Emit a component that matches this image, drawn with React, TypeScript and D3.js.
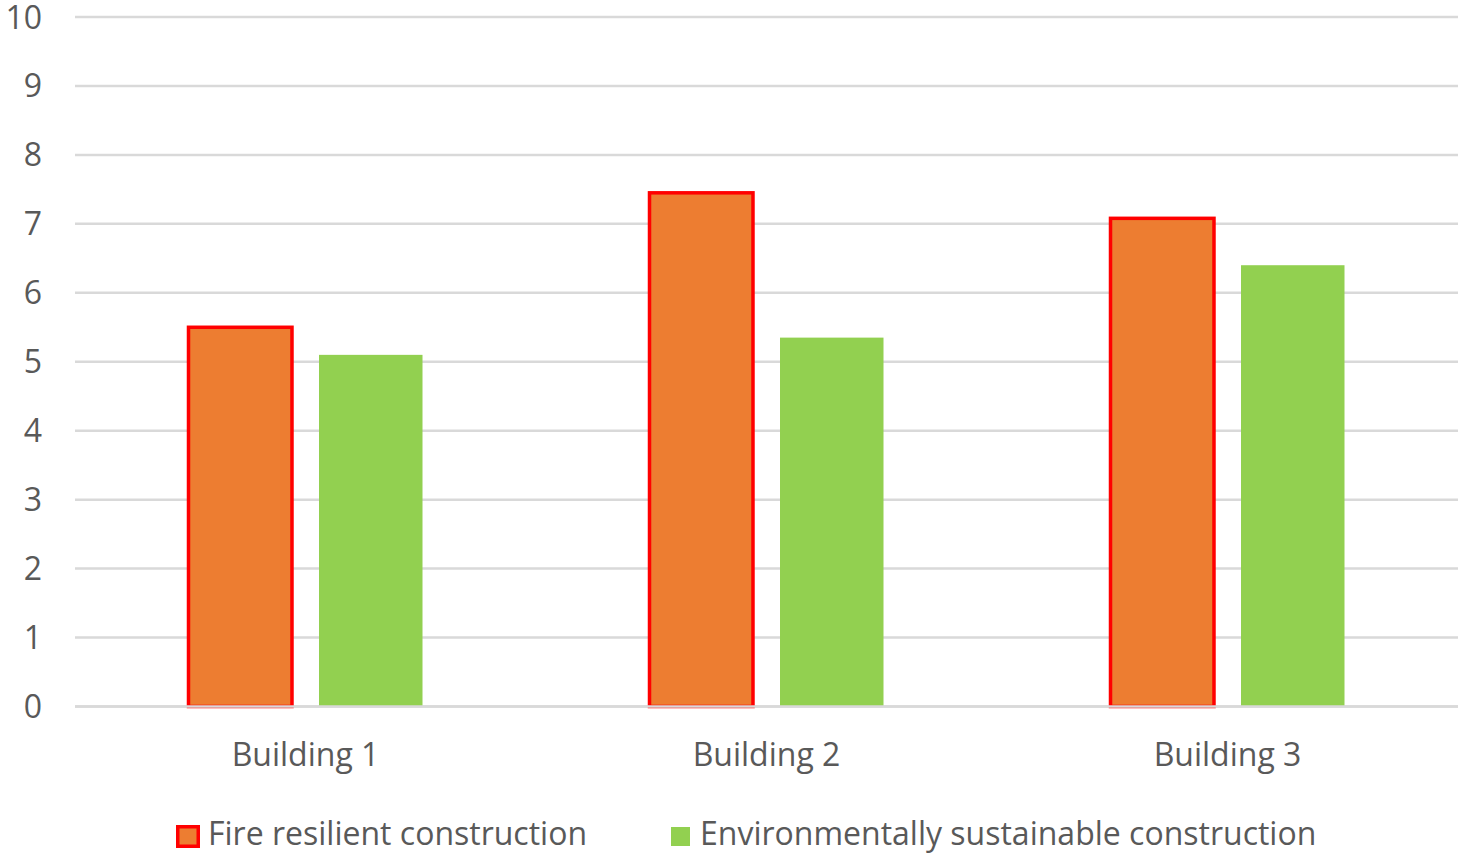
import React from "react";
import * as d3 from "d3";

const categories = ["Building 1", "Building 2", "Building 3"];
const seriesNames = ["Fire resilient construction", "Environmentally sustainable construction"];
const fireValues = [5.5, 7.45, 7.08];
const envValues = [5.1, 5.35, 6.4];
const yTicks = [0, 1, 2, 3, 4, 5, 6, 7, 8, 9, 10];

const W = 1463;
const H = 858;
const FONT = "'Open Sans', 'Liberation Sans', sans-serif";
const TEXT = "#595959";
const ORANGE = "#ED7D31";
const RED = "#FF0000";
const GREEN = "#92D050";
const GRID = "#D9D9D9";

export default function App() {
  const x0 = d3.scaleBand<string>().domain(categories).range([75, 1458]).padding(0);
  const x1 = d3.scaleBand<string>().domain(seriesNames).range([113.5, 347.5]).paddingInner(0.207).paddingOuter(0);
  const y = d3.scaleLinear().domain([0, 10]).range([706.5, 17]);
  const values = [fireValues, envValues];

  return (
    <div style={{ position: "fixed", left: 0, top: 0 }}>
      <svg width={W} height={H} style={{ display: "block", background: "#fff" }}>
        {yTicks.map((t) => (
          <g key={t}>
            <line x1={75} x2={1458} y1={y(t)} y2={y(t)} stroke={GRID} strokeWidth={2.5} />
            <text x={42} y={y(t)} dy="0.36em" textAnchor="end" fontFamily={FONT} fontSize={32} fill={TEXT}>
              {t}
            </text>
          </g>
        ))}
        {categories.map((c, ci) => (
          <g key={c} transform={`translate(${x0(c)},0)`}>
            {seriesNames.map((s, si) => {
              const v = values[si][ci];
              const isFire = si === 0;
              return (
                <rect
                  key={s}
                  x={x1(s)}
                  y={y(v)}
                  width={x1.bandwidth()}
                  height={y(0) - y(v)}
                  fill={isFire ? ORANGE : GREEN}
                  stroke={isFire ? RED : "none"}
                  strokeWidth={isFire ? 3.5 : 0}
                />
              );
            })}
            <text
              x={x0.bandwidth() / 2}
              y={766}
              textAnchor="middle"
              fontFamily={FONT}
              fontSize={32}
              fill={TEXT}
            >
              {c}
            </text>
          </g>
        ))}
        <line x1={75} x2={1458} y1={y(0)} y2={y(0)} stroke={GRID} strokeWidth={2.5} />
        <rect x={177.75} y={826.75} width={20.5} height={19.5} fill={ORANGE} stroke={RED} strokeWidth={3.5} />
        <text x={208} y={845} fontFamily={FONT} fontSize={32} fill={TEXT}>
          {seriesNames[0]}
        </text>
        <rect x={671} y={827} width={19} height={19} fill={GREEN} />
        <text x={700} y={845} fontFamily={FONT} fontSize={32} fill={TEXT}>
          {seriesNames[1]}
        </text>
      </svg>
    </div>
  );
}
